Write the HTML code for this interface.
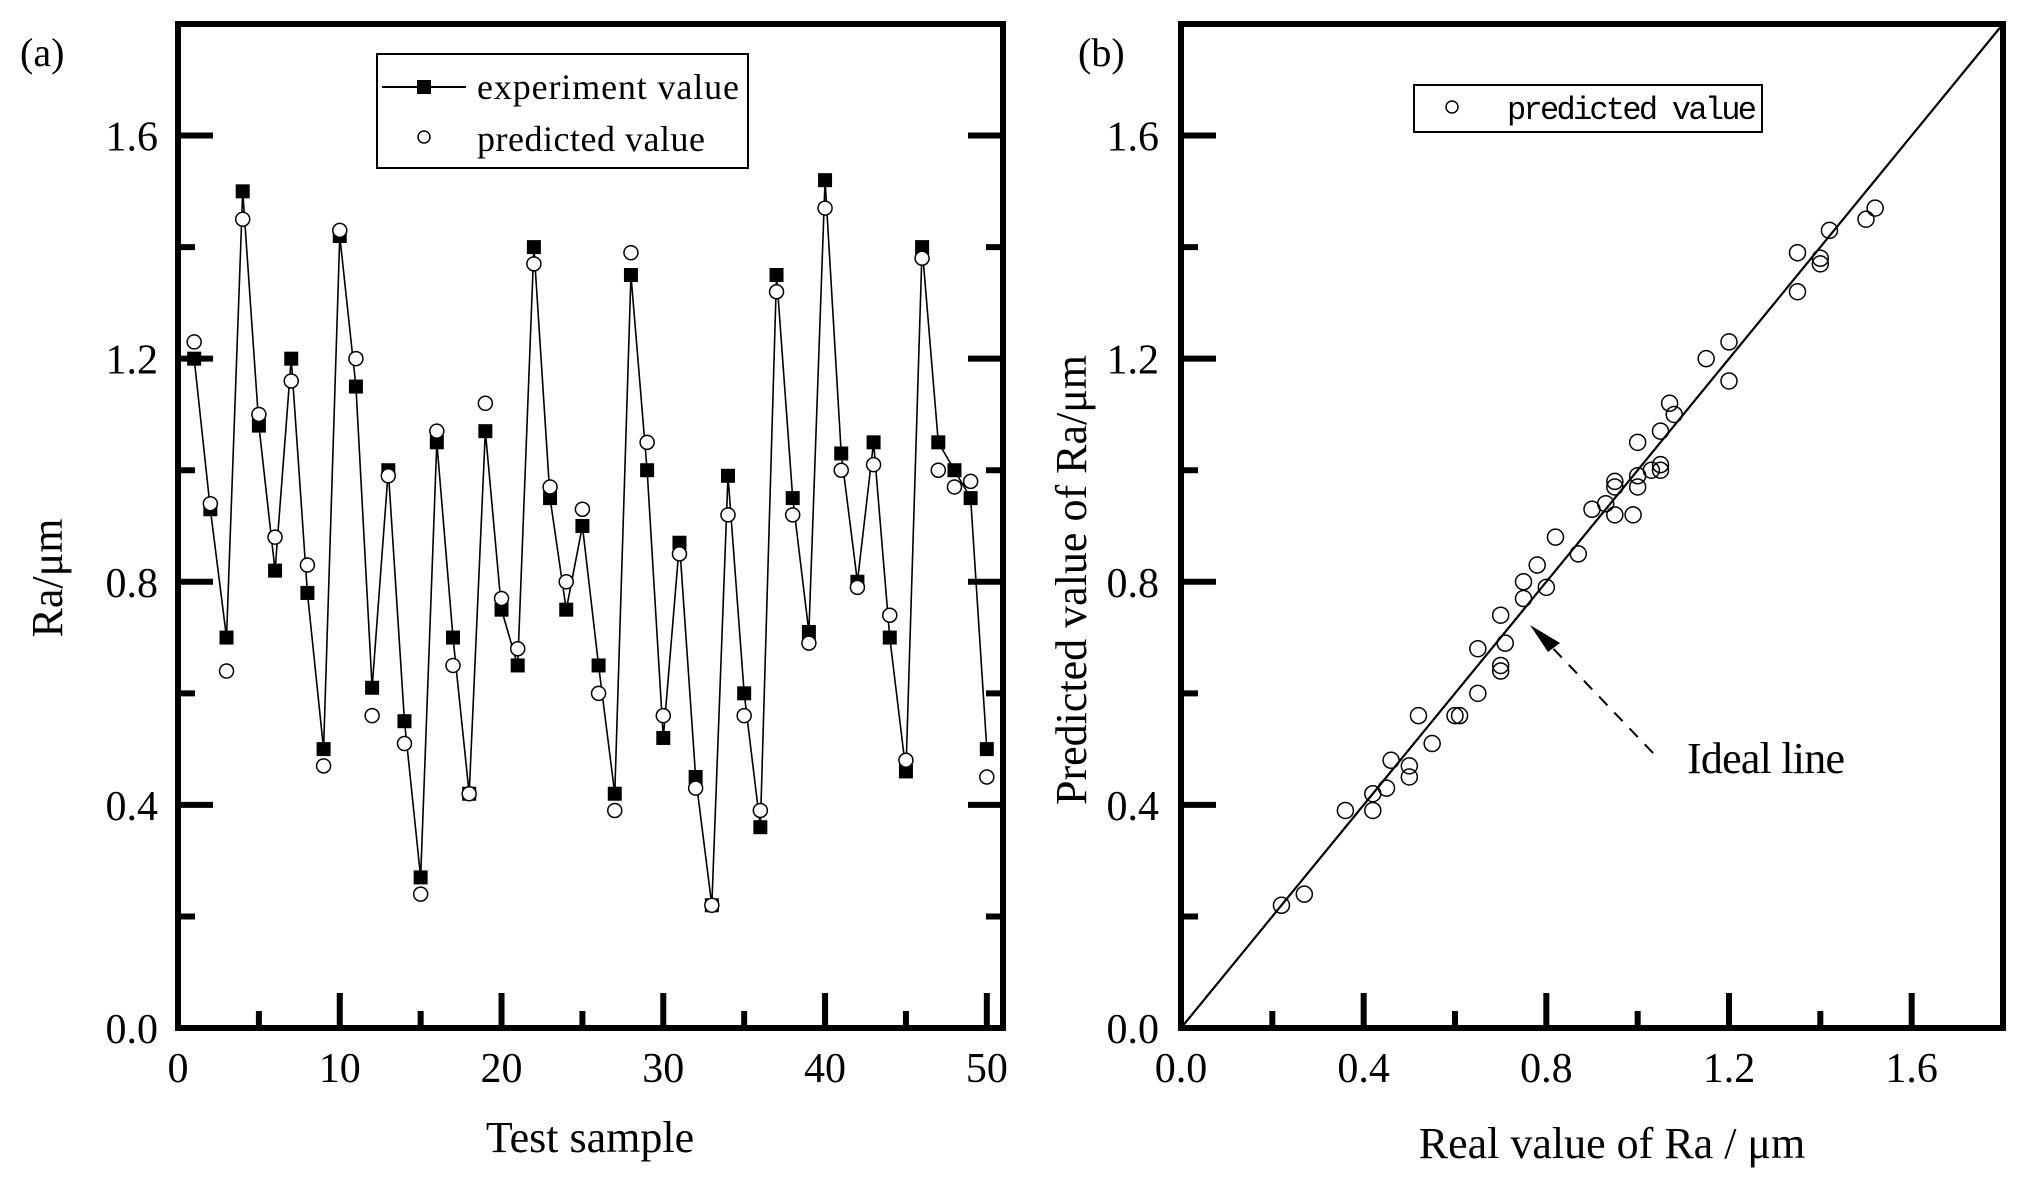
<!DOCTYPE html>
<html><head><meta charset="utf-8">
<style>
html,body{margin:0;padding:0;background:#fff;}
svg{display:block;font-family:"Liberation Serif",serif;}
</style></head>
<body>
<svg id="c" width="2022" height="1179" viewBox="0 0 2022 1179" xmlns="http://www.w3.org/2000/svg"></svg>
<script>
const samples = [1,2,3,4,5,6,7,8,9,10,11,12,13,14,15,16,17,18,19,20,21,22,23,24,25,26,27,28,29,30,31,32,33,34,35,36,37,38,39,40,41,42,43,44,45,46,47,48,49,50];
const experimentValues = [1.20,0.93,0.70,1.50,1.08,0.82,1.20,0.78,0.50,1.42,1.15,0.61,1.00,0.55,0.27,1.05,0.70,0.42,1.07,0.75,0.65,1.40,0.95,0.75,0.90,0.65,0.42,1.35,1.00,0.52,0.87,0.45,0.22,0.99,0.60,0.36,1.35,0.95,0.71,1.52,1.03,0.80,1.05,0.70,0.46,1.40,1.05,1.00,0.95,0.50];
const predictedValues = [1.23,0.94,0.64,1.45,1.10,0.88,1.16,0.83,0.47,1.43,1.20,0.56,0.99,0.51,0.24,1.07,0.65,0.42,1.12,0.77,0.68,1.37,0.97,0.80,0.93,0.60,0.39,1.39,1.05,0.56,0.85,0.43,0.22,0.92,0.56,0.39,1.32,0.92,0.69,1.47,1.00,0.79,1.01,0.74,0.48,1.38,1.00,0.97,0.98,0.45];
const yTicks = [0.0,0.4,0.8,1.2,1.6];
const yTickLabels = ["0.0","0.4","0.8","1.2","1.6"];
const xTicksA = [0,10,20,30,40,50];
const xTicksB = [0.0,0.4,0.8,1.2,1.6];
const xTickLabelsB = ["0.0","0.4","0.8","1.2","1.6"];

const NS="http://www.w3.org/2000/svg";
const svg=document.getElementById('c');
function mk(tag,attrs,parent){const e=document.createElementNS(NS,tag);for(const k in attrs)e.setAttribute(k,attrs[k]);(parent||svg).appendChild(e);return e;}

const plotTop=24,plotBottom=1028,yMax=1.8;
const yS=v=>plotBottom-(v/yMax)*(plotBottom-plotTop);
const aL=178,aR=1003,aMax=51;
const xA=v=>aL+(v/aMax)*(aR-aL);
const bL=1181,bR=2003,bMax=1.8;
const xB=v=>bL+(v/bMax)*(bR-bL);

// ===== Panel A =====
const gA=mk('g',{});


for(let v=0;v<=1.8001;v+=0.2){
  const major=Math.round(v*10)%4===0;const L=major?35:17;
  const t1=mk('line',{x1:aL,y1:yS(v),x2:aL+L,y2:yS(v),stroke:'#000','stroke-width':6},gA);
  
  
  const t2=mk('line',{x1:aR,y1:yS(v),x2:aR-L,y2:yS(v),stroke:'#000','stroke-width':6},gA);
  
  
}
for(let v=5;v<aMax;v+=5){
  const major=v%10===0;const L=major?35:17;
  const t=mk('line',{x1:xA(v),y1:plotBottom,x2:xA(v),y2:plotBottom-L,stroke:'#000','stroke-width':6},gA);
  
  
}
yTicks.forEach((v,i)=>{const t=mk('text',{x:aL-20,y:yS(v)+15,'font-size':42,'text-anchor':'end'},gA);t.textContent=yTickLabels[i];
  
  });
xTicksA.forEach(v=>{const t=mk('text',{x:xA(v),y:1082,'font-size':42,'text-anchor':'middle'},gA);t.textContent=String(v);
  
  });
let d='';samples.forEach((s,i)=>{d+=(i?'L':'M')+xA(s)+','+yS(experimentValues[i]);});
const lnA=mk('path',{d:d,fill:'none',stroke:'#000','stroke-width':1.6},gA);


samples.forEach((s,i)=>{
  const r=mk('rect',{x:xA(s)-7,y:yS(experimentValues[i])-7,width:14,height:14,fill:'#000'},gA);
  
  
});
samples.forEach((s,i)=>{
  const c=mk('circle',{cx:xA(s),cy:yS(predictedValues[i]),r:7,fill:'#fff',stroke:'#000','stroke-width':1.5},gA);
  
  
});
const frA=mk('rect',{x:aL,y:plotTop,width:aR-aL,height:plotBottom-plotTop,fill:'none',stroke:'#000','stroke-width':6},gA);


const lgA=mk('g',{},gA);


mk('rect',{x:377,y:54,width:371,height:114,fill:'#fff',stroke:'#000','stroke-width':2},lgA);
mk('line',{x1:382,y1:87,x2:466,y2:87,stroke:'#000','stroke-width':2},lgA);
mk('rect',{x:417,y:80,width:14,height:14,fill:'#000'},lgA);
mk('circle',{cx:424,cy:137,r:6,fill:'#fff',stroke:'#000','stroke-width':1.5},lgA);
let t=mk('text',{x:477,y:99,'font-size':36,textLength:262},lgA);t.textContent='experiment value';
t=mk('text',{x:477,y:151,'font-size':36,textLength:228},lgA);t.textContent='predicted value';
t=mk('text',{x:20,y:66,'font-size':40},gA);t.textContent='(a)';


t=mk('text',{x:590,y:1152,'font-size':44,'text-anchor':'middle'},gA);t.textContent='Test sample';


t=mk('text',{x:0,y:0,'font-size':44,'text-anchor':'middle',transform:'translate(62,578) rotate(-90)'},gA);t.textContent='Ra/μm';



// ===== Panel B =====
const gB=mk('g',{});


for(let v=0;v<=1.8001;v+=0.2){
  const major=Math.round(v*10)%4===0;const L=major?35:17;
  const t1=mk('line',{x1:bL,y1:yS(v),x2:bL+L,y2:yS(v),stroke:'#000','stroke-width':6},gB);
  
  
  if(v>0.01&&v<1.79){
    const t2=mk('line',{x1:xB(v),y1:plotBottom,x2:xB(v),y2:plotBottom-L,stroke:'#000','stroke-width':6},gB);
    
    
  }
}
yTicks.forEach((v,i)=>{const t=mk('text',{x:bL-22,y:yS(v)+15,'font-size':42,'text-anchor':'end'},gB);t.textContent=yTickLabels[i];
  
  });
xTicksB.forEach((v,i)=>{const t=mk('text',{x:xB(v),y:1082,'font-size':42,'text-anchor':'middle'},gB);t.textContent=xTickLabelsB[i];
  
  });
const ideal=mk('line',{x1:xB(0),y1:yS(0),x2:xB(1.8),y2:yS(1.8),stroke:'#000','stroke-width':2.2},gB);


samples.forEach((s,i)=>{
  const c=mk('circle',{cx:xB(experimentValues[i]),cy:yS(predictedValues[i]),r:8,fill:'none',stroke:'#000','stroke-width':1.5},gB);
  
  
});
const frB=mk('rect',{x:bL,y:plotTop,width:bR-bL,height:plotBottom-plotTop,fill:'none',stroke:'#000','stroke-width':6},gB);


const lgB=mk('g',{},gB);


mk('rect',{x:1414,y:85,width:348,height:47,fill:'#fff',stroke:'#000','stroke-width':2},lgB);
mk('circle',{cx:1452,cy:107,r:6,fill:'none',stroke:'#000','stroke-width':1.5},lgB);
t=mk('text',{x:1507,y:119,'font-size':32,textLength:250,'font-family':'Liberation Mono, monospace'},lgB);t.textContent='predicted value';
const ar=mk('g',{},gB);


mk('line',{x1:1653,y1:753,x2:1545,y2:640,stroke:'#000','stroke-width':2,'stroke-dasharray':'12,10'},ar);
mk('polygon',{points:'1530,625 1560,643 1548,652',fill:'#000'},ar);
t=mk('text',{x:1687,y:773,'font-size':44,textLength:158},gB);t.textContent='Ideal line';


t=mk('text',{x:1078,y:66,'font-size':40},gB);t.textContent='(b)';


t=mk('text',{x:1612,y:1158,'font-size':44,'text-anchor':'middle'},gB);t.textContent='Real value of Ra / μm';


t=mk('text',{x:0,y:0,'font-size':44,'text-anchor':'middle',transform:'translate(1086,580) rotate(-90)'},gB);t.textContent='Predicted value of Ra/μm';


</script>
</body></html>
